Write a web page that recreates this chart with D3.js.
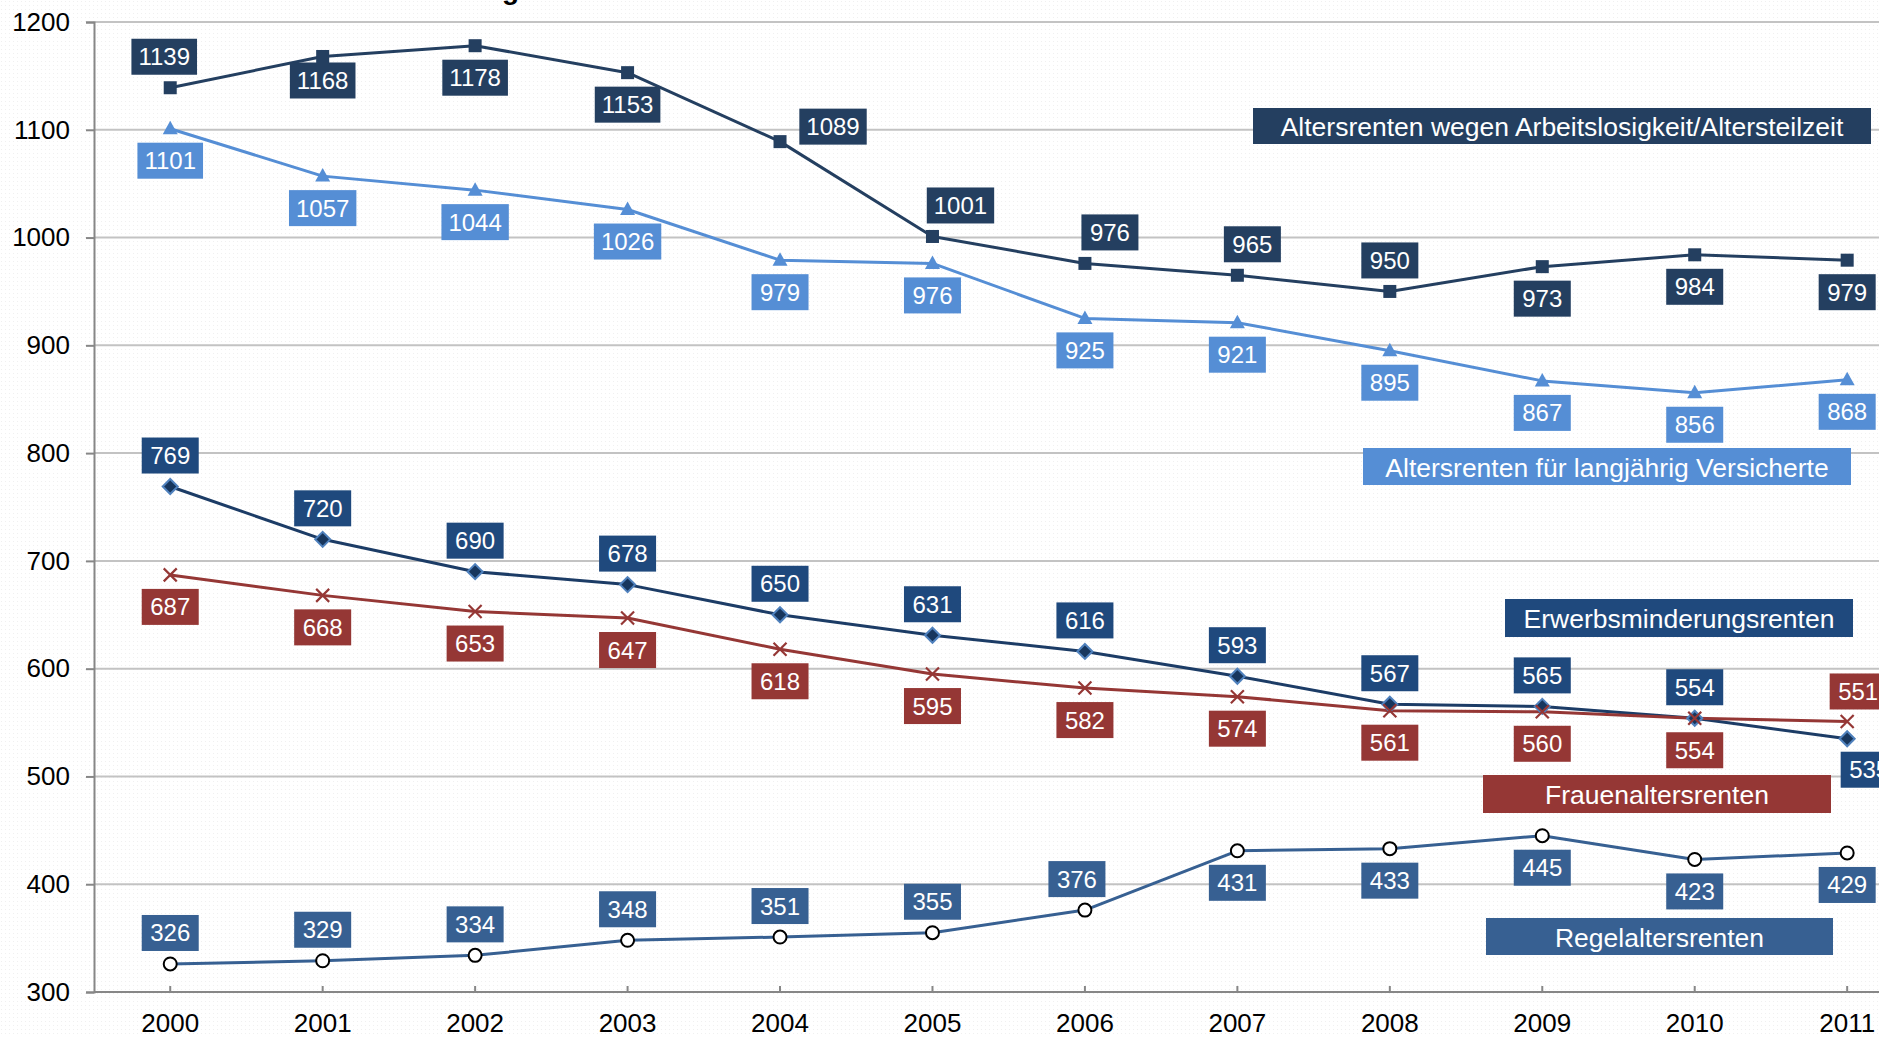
<!DOCTYPE html>
<html>
<head>
<meta charset="utf-8">
<script src="https://cdn.jsdelivr.net/npm/d3@7"></script>
<style>
  html, body { margin: 0; padding: 0; background: #ffffff; overflow: hidden; }
  svg { display: block; font-family: "Liberation Sans", Arial, sans-serif; }
</style>
</head>
<body>
<svg id="chart" width="1879" height="1037"></svg>
<script>
// Jahre (Kategorien der x-Achse)
const years = ["2000","2001","2002","2003","2004","2005","2006","2007","2008","2009","2010","2011"];
const yTicks = [300, 400, 500, 600, 700, 800, 900, 1000, 1100, 1200];

// Durchschnittliche Zahlbeträge je Rentenart (Euro)
const arbeitslosigkeit = [1139, 1168, 1178, 1153, 1089, 1001, 976, 965, 950, 973, 984, 979];
const langjaehrig      = [1101, 1057, 1044, 1026, 979, 976, 925, 921, 895, 867, 856, 868];
const erwerbsminderung = [769, 720, 690, 678, 650, 631, 616, 593, 567, 565, 554, 535];
const frauen           = [687, 668, 653, 647, 618, 595, 582, 574, 561, 560, 554, 551];
const regelalter       = [326, 329, 334, 348, 351, 355, 376, 431, 433, 445, 423, 429];

const seriesNames = [
  "Altersrenten wegen Arbeitslosigkeit/Altersteilzeit",
  "Altersrenten für langjährig Versicherte",
  "Erwerbsminderungsrenten",
  "Frauenaltersrenten",
  "Regelaltersrenten"
];

// Lage der Wertbeschriftungen: a = oberhalb, b = unterhalb, r/ra/rb = rechts daneben
const A = "a", B = "b";
const labelSides = [
  [A, B, B, B, "r", A, A, A, A, B, B, B],
  [B, B, B, B, B, B, B, B, B, B, B, B],
  [A, A, A, A, A, A, A, A, A, A, A, "rb"],
  [B, B, B, B, B, B, B, B, B, B, B, "ra"],
  [A, A, A, A, A, A, A, B, B, B, B, B]
];
const sideOffset = {
  a:  [0, -31],
  b:  [0, 32],
  r:  [53, -15],
  rb: [22, 31],
  ra: [11, -30]
};
// kleine Verschiebungen einzelner Beschriftungen
const labelShiftX = { "0-0": -6, "0-5": 28, "0-6": 25, "0-7": 15, "4-6": -8 };
const labelShiftY = { "0-1": -8 };

const styles = [
  { line: "#243F60", box: "#243F60", marker: "square" },
  { line: "#558ED5", box: "#558ED5", marker: "triangle" },
  { line: "#1C3C66", box: "#1F497D", marker: "diamond" },
  { line: "#953735", box: "#953735", marker: "cross" },
  { line: "#376092", box: "#376092", marker: "circle" }
];

// Legendenkästen (Position im Diagramm)
const legendBoxes = [
  { x: 1253, y: 108, w: 618, h: 36 },
  { x: 1363, y: 448, w: 488, h: 37 },
  { x: 1505, y: 599, w: 348, h: 38 },
  { x: 1483, y: 775, w: 348, h: 38 },
  { x: 1486, y: 918, w: 347, h: 37 }
];

const allSeries = [arbeitslosigkeit, langjaehrig, erwerbsminderung, frauen, regelalter];

const svg = d3.select("#chart");
const W = 1879, H = 1037;

// dezentes Punktraster im Hintergrund
const defs = svg.append("defs");
const pat = defs.append("pattern").attr("id", "dots")
  .attr("width", 4).attr("height", 4).attr("patternUnits", "userSpaceOnUse");
pat.append("rect").attr("width", 4).attr("height", 4).attr("fill", "#ffffff");
pat.append("rect").attr("x", 1).attr("y", 1).attr("width", 1).attr("height", 1).attr("fill", "#f0f0f0");
svg.append("rect").attr("width", W).attr("height", H).attr("fill", "url(#dots)");

const plotLeft = 94, plotBottom = 992, plotTop = 22;
const band = 152.45;
const x = d3.scaleBand().domain(years).range([plotLeft, plotLeft + band * years.length]);
const cx = d => x(d) + x.bandwidth() / 2;
const y = d3.scaleLinear().domain([300, 1200]).range([plotBottom, plotTop]);

// Titel (oberhalb des sichtbaren Bereichs)
svg.append("text")
  .attr("x", 519).attr("y", -1)
  .attr("text-anchor", "end")
  .attr("font-weight", "bold").attr("font-size", 28)
  .attr("fill", "#000")
  .text("Durchschnittlicher Rentenzahlbetrag");

// Gitternetzlinien
svg.append("g").selectAll("line")
  .data(yTicks.filter(t => t !== 300))
  .join("line")
  .attr("x1", plotLeft).attr("x2", W)
  .attr("y1", d => y(d)).attr("y2", d => y(d))
  .attr("stroke", "#c3c3c3").attr("stroke-width", 2);

// y-Achse
const yAxis = svg.append("g")
  .attr("transform", `translate(${plotLeft},0)`)
  .call(d3.axisLeft(y).tickValues(yTicks).tickSize(8).tickPadding(16).tickFormat(d3.format("d")));
yAxis.select(".domain").attr("stroke", "#878787").attr("stroke-width", 2);
yAxis.selectAll(".tick line").attr("stroke", "#878787").attr("stroke-width", 2);
yAxis.selectAll(".tick text")
  .attr("font-size", 26).attr("fill", "#000")
  .attr("font-family", "Liberation Sans, Arial, sans-serif");

// x-Achse
const xAxis = svg.append("g")
  .attr("transform", `translate(0,${plotBottom})`)
  .call(d3.axisBottom(x).tickSizeInner(-6).tickSizeOuter(0).tickPadding(22));
xAxis.select(".domain").attr("stroke", "#878787").attr("stroke-width", 2)
  .attr("d", `M${plotLeft},0H${W}`);
xAxis.selectAll(".tick line").attr("stroke", "#878787").attr("stroke-width", 2);
xAxis.selectAll(".tick text")
  .attr("font-size", 26).attr("fill", "#000")
  .attr("font-family", "Liberation Sans, Arial, sans-serif");

// Linien
const lineGen = d3.line().x((d, i) => cx(years[i])).y(d => y(d));
allSeries.forEach((vals, s) => {
  svg.append("path")
    .datum(vals)
    .attr("d", lineGen)
    .attr("fill", "none")
    .attr("stroke", styles[s].line)
    .attr("stroke-width", 3)
    .attr("stroke-linejoin", "round");
});

// Markierungen
function drawMarkers(vals, s) {
  const g = svg.append("g");
  const st = styles[s];
  vals.forEach((v, i) => {
    const px = cx(years[i]), py = y(v);
    if (st.marker === "square") {
      g.append("rect").attr("x", px - 6.5).attr("y", py - 6.5)
        .attr("width", 13).attr("height", 13).attr("fill", st.line);
    } else if (st.marker === "triangle") {
      g.append("path")
        .attr("d", `M${px},${py - 8}L${px + 7.5},${py + 5.5}L${px - 7.5},${py + 5.5}Z`)
        .attr("fill", "#558ED5");
    } else if (st.marker === "diamond") {
      g.append("path")
        .attr("d", `M${px},${py - 7.5}L${px + 7.5},${py}L${px},${py + 7.5}L${px - 7.5},${py}Z`)
        .attr("fill", "#17365D").attr("stroke", "#4F81BD").attr("stroke-width", 2);
    } else if (st.marker === "cross") {
      g.append("path")
        .attr("d", `M${px - 6.5},${py - 6.5}L${px + 6.5},${py + 6.5}M${px + 6.5},${py - 6.5}L${px - 6.5},${py + 6.5}`)
        .attr("stroke", st.line).attr("stroke-width", 2.2).attr("fill", "none");
    } else if (st.marker === "circle") {
      g.append("circle").attr("cx", px).attr("cy", py).attr("r", 6.5)
        .attr("fill", "#fff").attr("stroke", "#000").attr("stroke-width", 2);
    }
  });
}
allSeries.forEach(drawMarkers);

// Wertbeschriftungen
allSeries.forEach((vals, s) => {
  const g = svg.append("g");
  vals.forEach((v, i) => {
    const side = labelSides[s][i];
    const key = `${s}-${i}`;
    const off = sideOffset[side];
    const lx = cx(years[i]) + off[0] + (labelShiftX[key] || 0);
    const ly = y(v) + off[1] + (labelShiftY[key] || 0);
    const t = g.append("text")
      .attr("x", lx).attr("y", ly)
      .attr("text-anchor", "middle")
      .attr("dominant-baseline", "central")
      .attr("font-size", 24).attr("fill", "#fff")
      .text(String(v));
    const tw = t.node().getComputedTextLength();
    const bw = Math.max(tw + 14, 57), bh = 36;
    g.insert("rect", () => t.node())
      .attr("x", lx - bw / 2).attr("y", ly - bh / 2)
      .attr("width", bw).attr("height", bh)
      .attr("fill", styles[s].box);
  });
});

// Legendenkästen
legendBoxes.forEach((b, s) => {
  svg.append("rect")
    .attr("x", b.x).attr("y", b.y).attr("width", b.w).attr("height", b.h)
    .attr("fill", styles[s].box);
  svg.append("text")
    .attr("x", b.x + b.w / 2).attr("y", b.y + b.h / 2 + 1)
    .attr("text-anchor", "middle").attr("dominant-baseline", "central")
    .attr("font-size", 26.5).attr("fill", "#fff")
    .text(seriesNames[s]);
});
</script>
</body>
</html>
